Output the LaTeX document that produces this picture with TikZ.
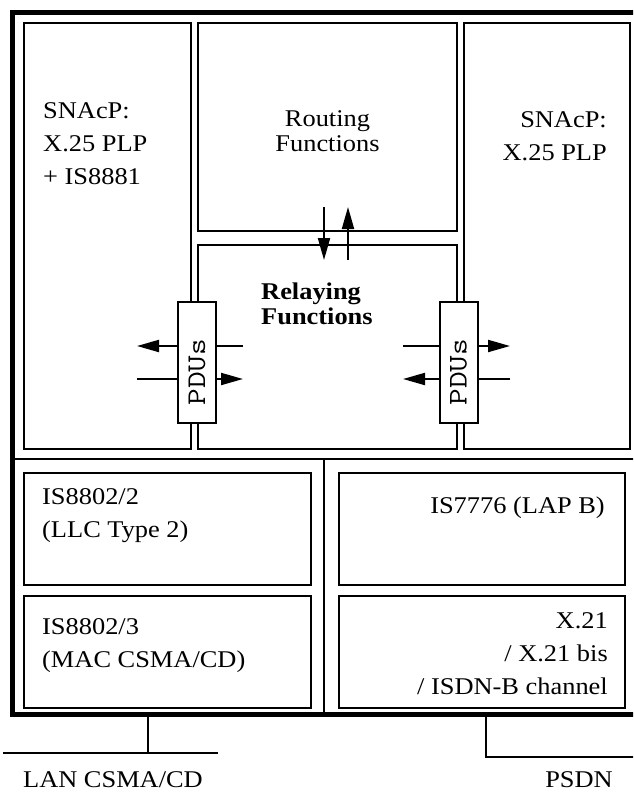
\documentclass[tikz,border=0pt]{standalone}
\usepackage{fontspec}
\setmainfont{Liberation Serif}[FakeStretch=1.1]
\usepackage{tikz}
\usetikzlibrary{arrows.meta, positioning}

\begin{document}
\begin{tikzpicture}[x=1pt, y=-1pt,
    arr/.style={-{Triangle[length=22pt, width=12pt]}, line width=2pt},
    panel/.style={draw, line width=2pt, anchor=north west},
    pdubox/.style={draw, fill=white, line width=2pt, minimum width=38pt, minimum height=121pt,
                   font=\ttfamily\fontsize{27}{27}\selectfont},
    frame/.style={line width=5pt},
    divider/.style={line width=2.5pt},
    wire/.style={line width=2pt},
    tight/.style={font=\fontsize{24}{25}\selectfont},
    every node/.style={inner sep=0pt, font=\fontsize{24}{33}\selectfont},
]
\useasboundingbox (0,0) rectangle (633,793);
\clip (0,0) rectangle (633,793);

\draw[frame] (12,12) rectangle (640,714);
\draw[divider] (12,459) -- (640,459);
\draw[divider] (324,459) -- (324,714);

\node[panel, minimum width=166.5pt, minimum height=426pt] (snacpl) at (23,22) {};
\node[panel, minimum width=259pt, minimum height=208pt] (routing) at (197,22) {};
\node[panel, minimum width=259pt, minimum height=204pt] (relaying) at (197,244) {};
\node[panel, minimum width=166pt, minimum height=426pt] (snacpr) at (463,22) {};
\node[panel, minimum width=287pt, minimum height=112pt] (llc) at (23,472) {};
\node[panel, minimum width=287pt, minimum height=112pt] (mac) at (23,595) {};
\node[panel, minimum width=286pt, minimum height=112pt] (lapb) at (338,472) {};
\node[panel, minimum width=286pt, minimum height=112pt] (xtwo) at (338,595) {};

\node[align=left, below right=80pt and 20pt of snacpl.north west] (snacpltxt) {SNAcP:\\X.25 PLP\\+ IS8881};
\node[align=right, below left=89pt and 24pt of snacpr.north east] (snacprtxt) {SNAcP:\\X.25 PLP};
\node[tight, align=center, below=88pt of routing.north] (routingtxt) {Routing\\Functions};
\node[tight, align=left, below right=39pt and 64pt of relaying.north west] (relayingtxt) {\bfseries Relaying\\\bfseries Functions};
\node[align=left, below right=16pt and 19pt of llc.north west] (llctxt) {IS8802/2\\(LLC Type 2)};
\node[align=left, below right=23pt and 19pt of mac.north west] (mactxt) {IS8802/3\\(MAC CSMA/CD)};
\node[align=right, below left=25pt and 21pt of lapb.north east] (lapbtxt) {IS7776 (LAP B)};
\node[align=right, below left=17pt and 18pt of xtwo.north east] (xtwotxt) {X.21\hspace{6pt}\\/ X.21 bis\hspace{17pt}\\/ ISDN-B channel};

\coordinate (dntop) at (324,207);
\coordinate (dnbot) at (324,260);
\coordinate (uptop) at (348,207);
\coordinate (upbot) at (348,260);
\draw[arr] (dntop) -- (dnbot);
\draw[arr] (upbot) -- (uptop);

\coordinate (lin) at (243,346);
\coordinate (lout) at (137,346);
\coordinate (lfrom) at (137,379);
\coordinate (lto) at (243,379);
\coordinate (rin) at (403,346);
\coordinate (rout) at (510,346);
\coordinate (rfrom) at (510,379);
\coordinate (rto) at (403,379);
\draw[arr] (lin) -- (lout);
\draw[arr] (lfrom) -- (lto);
\draw[arr] (rin) -- (rout);
\draw[arr] (rfrom) -- (rto);

\node[pdubox] (pdul) at (197,362.5) {\rotatebox{90}{\scalebox{1.2}[1]{PDUs}\hspace{19pt}}};
\node[pdubox] (pdur) at (458.5,362.5) {\rotatebox{90}{\scalebox{1.2}[1]{PDUs}\hspace{19pt}}};

\coordinate (lantap) at (148,714);
\coordinate (lanbus) at (148,753);
\coordinate (psdntap) at (486,714);
\coordinate (psdnbus) at (486,757);
\draw[wire] (lantap) -- (lanbus);
\draw[wire] (3,753) -- (218,753);
\draw[wire] (psdntap) -- (psdnbus) -- (640,757);

\node (lan) at (113,780) {LAN CSMA/CD};
\node (psdn) at (579,780) {PSDN};
\end{tikzpicture}
\end{document}
